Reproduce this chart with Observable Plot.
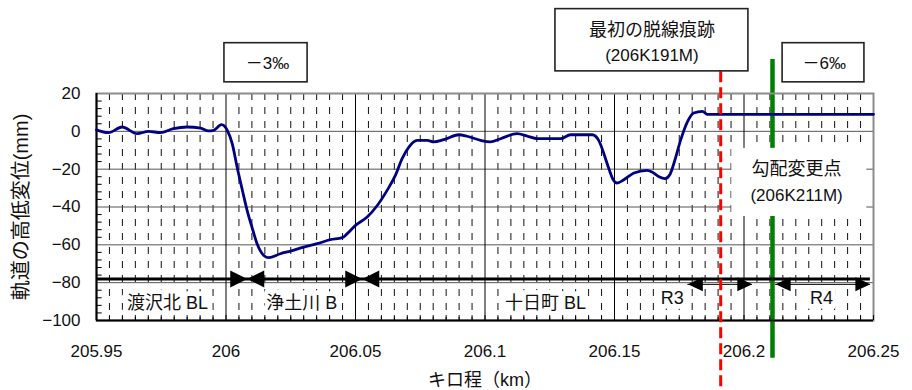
<!DOCTYPE html>
<html>
<head>
<meta charset="utf-8">
<script src="https://cdn.jsdelivr.net/npm/d3@7"></script>
<script src="https://cdn.jsdelivr.net/npm/@observablehq/plot@0.6"></script>
<style>
  html, body { margin: 0; padding: 0; background: #fff; }
</style>
</head>
<body>
<div id="chart"></div>
<script>
// ---- Data ----
const km = [205.950, 205.9546, 205.9599, 205.9657, 205.9701, 205.9747, 205.9797, 205.9850, 205.9902, 205.9932,
  205.9952, 205.9983, 206.0005, 206.0024, 206.0043, 206.0063, 206.0082, 206.0101, 206.0120, 206.0146,
  206.0165, 206.0210, 206.0249, 206.0300, 206.0352, 206.0403, 206.0449, 206.0468, 206.0500, 206.0545,
  206.0584, 206.0622, 206.0654, 206.0680, 206.0706, 206.0738, 206.0777, 206.0802, 206.0841, 206.0899,
  206.0931, 206.0983, 206.1021, 206.1060, 206.1124, 206.1163, 206.1202, 206.1292, 206.1330, 206.1414,
  206.1439, 206.1459, 206.1478, 206.1495, 206.1510, 206.1536, 206.1575, 206.1626, 206.1645, 206.1672,
  206.1695, 206.1714, 206.1733, 206.1755, 206.1781, 206.1806, 206.1839, 206.1858, 206.1909, 206.2500];
const mm = [0.8, -0.7, 2.3, -1.2, 0, -0.7, 1.4, 2.3, 1.7, 0.2,
  0.5, 3.5, 0.5, -6.5, -19, -31, -42, -51, -59.4, -65.6,
  -66.8, -64.7, -63.3, -61.2, -59.4, -57.3, -56.2, -54.1, -49.7, -45.3,
  -39.2, -31.2, -23.3, -14.4, -8.3, -4.8, -4.8, -5.6, -4.4, -1.8,
  -2.6, -4.8, -5.6, -3.9, -1.2, -2.5, -3.9, -3.9, -1.8, -1.8,
  -4.8, -11.8, -19.7, -25.6, -27.3, -25.6, -22, -20.6, -21.5, -24,
  -25, -22.8, -15.3, -4.8, 4.9, 9.7, 10.6, 9, 9, 9];

const xTicks = [205.95, 206, 206.05, 206.1, 206.15, 206.2, 206.25];
const xTickLabels = ["205.95", "206", "206.05", "206.1", "206.15", "206.2", "206.25"];
const yTicks = [20, 0, -20, -40, -60, -80, -100];
const yTickLabels = ["20", "0", "−20", "−40", "−60", "−80", "−100"];

// track sections
const sectionNames = ["渡沢北 BL", "浄土川 B", "十日町 BL", "R3", "R4"];
const sectionLabelKm = [205.9774, 206.0292, 206.1234, 206.1723, 206.2299];
const sectionLabelMm = [-91, -91, -91, -88.4, -88.4];
const sectionLineMm = -78;
const sectionLineKm = [205.95, 206.2488];
const bigArrowKm = [206.0082, 206.0526];       // boundaries (both directions meet)
const curveArrowMm = -80.9;
const curveRanges = [[206.1783, 206.2032], [206.2122, 206.2488]]; // R3, R4

// events
const derailKm = 206.191;
const derailLabel = ["最初の脱線痕跡", "(206K191M)"];
const gradeChangeKm = 206.211;
const gradeChangeLabel = ["勾配変更点", "(206K211M)"];
const gradientLabels = ["－3‰", "－6‰"];
const gradientKm = [206.016, 206.231];

// annotation boxes (data units)
const gradientBoxes = [{x1: 205.9994, x2: 206.0315}, {x1: 206.2149, x2: 206.2465}];
const gradientBoxMm = [25.9, 46.6];
const derailBox = {x1: 206.1272, x2: 206.2017, y1: 31.7, y2: 64.6};
const gradeBox = {x1: 206.1953, x2: 206.2474, y1: -45, y2: -9};

// ---- build ----
const series = km.map((k, i) => ({km: k, mm: mm[i]}));
const minorAll = d3.range(0, 61).map(i => +(205.95 + i * 0.005).toFixed(3));
const minorX = minorAll.filter((d, i) => i % 10 !== 0);
const yMinor = d3.range(-100, 21, 4).filter(d => d % 20 !== 0);
const majorX = xTicks.slice(1, -1);
const majorY = yTicks.slice(1, -1);

const FONT = "'Liberation Sans', 'Noto Sans CJK JP', Arial, sans-serif";

function triangle(len, half) { // tip at origin, pointing right
  return {draw(ctx) { ctx.moveTo(0, 0); ctx.lineTo(-len, -half); ctx.lineTo(-len, half); ctx.closePath(); }};
}
const bigTri = triangle(17, 8.5);
const smallTri = triangle(15, 7);

const bigArrows = bigArrowKm.flatMap(k => [{km: k, rot: 0}, {km: k, rot: 180}]);
const curveArrows = curveRanges.flatMap(([a, b]) => [{km: a, rot: 180}, {km: b, rot: 0}]);

const chart = Plot.plot({
  width: 912,
  height: 390,
  marginLeft: 96,
  marginRight: 39,
  marginTop: 93,
  marginBottom: 70,
  style: {fontFamily: FONT, background: "#fff", overflow: "visible"},
  x: {domain: [205.95, 206.25], axis: null},
  y: {domain: [-100, 20], axis: null},
  marks: [
    // minor dashed vertical grid
    Plot.ruleX(minorX, {stroke: "#111", strokeWidth: 1, strokeDasharray: "7,7"}),
    // major grid
    Plot.ruleY(majorY, {stroke: "#555", strokeWidth: 1}),
    Plot.ruleX(majorX, {stroke: "#000", strokeWidth: 1}),
    // green grade change line
    Plot.ruleX([gradeChangeKm], {y1: 38, y2: -120, stroke: "#008000", strokeWidth: 4.5}),
    // white label box for the grade change
    Plot.rect([gradeBox], {x1: "x1", x2: "x2", y1: "y1", y2: "y2", fill: "#fff"}),
    Plot.text(gradeChangeLabel, {x: gradeChangeKm + 0.0093, y: (d, i) => [-20.1, -33.9][i], text: d => d, fontSize: (d, i) => i === 0 ? 18 : 17, fill: "#111"}),
    // section labels with white background
    Plot.text(sectionNames, {x: (d, i) => sectionLabelKm[i], y: (d, i) => sectionLabelMm[i], text: d => d, fontSize: 18, fill: "#111", stroke: "#fff", strokeWidth: 9, strokeLinejoin: "miter"}),
    // frame and axes
    Plot.frame({stroke: "#8c8c8c", strokeWidth: 2}),
    Plot.ruleX([205.95], {stroke: "#000", strokeWidth: 2}),
    Plot.ruleY([-100], {stroke: "#000", strokeWidth: 2}),
    Plot.ruleY(yMinor, {x1: 205.95, x2: 205.9522, stroke: "#000", strokeWidth: 1}),
    Plot.ruleX(minorAll, {y1: -100, y2: -97.4, stroke: "#000", strokeWidth: 1}),
    // section line and arrowheads
    Plot.ruleY([sectionLineMm], {x1: sectionLineKm[0], x2: sectionLineKm[1], stroke: "#000", strokeWidth: 3}),
    Plot.ruleY(curveRanges, {x1: d => d[0], x2: d => d[1], y: curveArrowMm, stroke: "#000", strokeWidth: 1}),
    Plot.dot(bigArrows, {x: "km", y: sectionLineMm, rotate: "rot", symbol: bigTri, r: 5, fill: "#000", stroke: "none"}),
    Plot.dot(curveArrows, {x: "km", y: curveArrowMm, rotate: "rot", symbol: smallTri, r: 5, fill: "#000", stroke: "none"}),
    // data line
    Plot.line(series, {x: "km", y: "mm", stroke: "#000080", strokeWidth: 2.8, curve: "monotone-x"}),
    // red derailment line
    Plot.ruleX([derailKm], {y1: 31.5, y2: -137, stroke: "#ff0000", strokeWidth: 3, strokeDasharray: "11,5"}),
    // annotation boxes above the plot
    Plot.rect(gradientBoxes, {x1: "x1", x2: "x2", y1: gradientBoxMm[0], y2: gradientBoxMm[1], fill: "#fff", stroke: "#222", strokeWidth: 1.6}),
    Plot.text(gradientLabels, {x: (d, i) => gradientKm[i], y: 36, text: d => d, fontSize: 17, fill: "#111"}),
    Plot.rect([derailBox], {x1: "x1", x2: "x2", y1: "y1", y2: "y2", fill: "#fff", stroke: "#222", strokeWidth: 1.6}),
    Plot.text(derailLabel, {x: (derailBox.x1 + derailBox.x2) / 2, y: (d, i) => [53.4, 40.2][i], text: d => d, fontSize: (d, i) => i === 0 ? 18 : 17, fill: "#111"}),
    // tick labels
    Plot.text(xTicks, {x: d => d, text: (d, i) => xTickLabels[i], frameAnchor: "bottom", lineAnchor: "middle", dy: 31, fontSize: 17, fill: "#111"}),
    Plot.text(yTicks, {y: d => d, text: (d, i) => yTickLabels[i], frameAnchor: "left", dx: -16, textAnchor: "end", lineAnchor: "middle", fontSize: 17, fill: "#111"}),
    // axis titles
    Plot.text(["軌道の高低変位(mm)"], {frameAnchor: "left", dx: -75, rotate: -90, textAnchor: "middle", lineAnchor: "middle", fontSize: 20, fill: "#111"}),
    Plot.text(["キロ程（km）"], {frameAnchor: "bottom", dy: 60, textAnchor: "middle", lineAnchor: "middle", fontSize: 18, fill: "#111"})
  ]
});
document.getElementById("chart").appendChild(chart);
</script>
</body>
</html>
